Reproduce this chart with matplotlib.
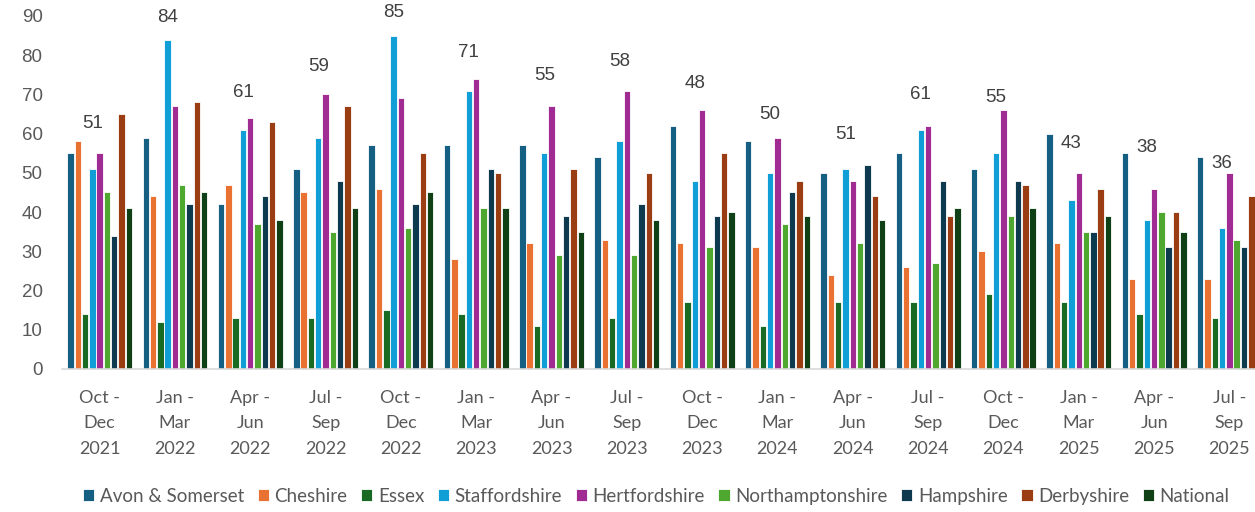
import numpy as np
import matplotlib
matplotlib.use("Agg")
import matplotlib.pyplot as plt

quarters = ["Oct -\nDec\n2021", "Jan -\nMar\n2022", "Apr -\nJun\n2022", "Jul -\nSep\n2022",
            "Oct -\nDec\n2022", "Jan -\nMar\n2023", "Apr -\nJun\n2023", "Jul -\nSep\n2023",
            "Oct -\nDec\n2023", "Jan -\nMar\n2024", "Apr -\nJun\n2024", "Jul -\nSep\n2024",
            "Oct -\nDec\n2024", "Jan -\nMar\n2025", "Apr -\nJun\n2025", "Jul -\nSep\n2025"]

avon_somerset    = [55, 59, 42, 51, 57, 57, 57, 54, 62, 58, 50, 55, 51, 60, 55, 54]
cheshire         = [58, 44, 47, 45, 46, 28, 32, 33, 32, 31, 24, 26, 30, 32, 23, 23]
essex            = [14, 12, 13, 13, 15, 14, 11, 13, 17, 11, 17, 17, 19, 17, 14, 13]
staffordshire    = [51, 84, 61, 59, 85, 71, 55, 58, 48, 50, 51, 61, 55, 43, 38, 36]
hertfordshire    = [55, 67, 64, 70, 69, 74, 67, 71, 66, 59, 48, 62, 66, 50, 46, 50]
northamptonshire = [45, 47, 37, 35, 36, 41, 29, 29, 31, 37, 32, 27, 39, 35, 40, 33]
hampshire        = [34, 42, 44, 48, 42, 51, 39, 42, 39, 45, 52, 48, 48, 35, 31, 31]
derbyshire       = [65, 68, 63, 67, 55, 50, 51, 50, 55, 48, 44, 39, 47, 46, 40, 44]
national         = [41, 45, 38, 41, 45, 41, 35, 38, 40, 39, 38, 41, 41, 39, 35, np.nan]

series_names = ["Avon & Somerset", "Cheshire", "Essex", "Staffordshire", "Hertfordshire",
                "Northamptonshire", "Hampshire", "Derbyshire", "National"]
series_values = [avon_somerset, cheshire, essex, staffordshire, hertfordshire,
                 northamptonshire, hampshire, derbyshire, national]
colors = ["#156082", "#E97132", "#196B24", "#0F9ED5", "#A02B93",
          "#4EA72E", "#0E3A4F", "#9A3D12", "#0F4016"]

# heights at which the Staffordshire value labels sit
label_heights = [62.5, 89.5, 70.6, 77.2, 90.8, 80.8, 74.7, 78.4,
                 72.9, 65.0, 59.7, 69.9, 69.3, 57.4, 56.4, 52.3]

fig = plt.figure(figsize=(12.55, 5.12), dpi=100)
ax = fig.add_axes([0.0494, 0.2793, 0.9506, 0.6895])

x = np.arange(len(quarters))
pitch = 0.097
width = 0.085
n = len(series_names)
for i, (name, vals, col) in enumerate(zip(series_names, series_values, colors)):
    offs = (i - (n - 1) / 2) * pitch
    ax.bar(x + offs, vals, width=width, color=col, edgecolor="white",
           linewidth=0.6, label=name, zorder=2)

staff_idx = series_names.index("Staffordshire")
staff_off = (staff_idx - (n - 1) / 2) * pitch
for xi, v, h in zip(x, staffordshire, label_heights):
    ax.text(xi + staff_off, h, f"{v}", ha="center", va="center", fontsize=13.5,
            color="#404040", family="Liberation Sans")

ax.set_xlim(-0.5, 15.34)
ax.set_ylim(0, 90)
ax.set_yticks(range(0, 91, 10))
ax.set_xticks(x)
ax.set_xticklabels(quarters, fontsize=13, color="#595959", family="Lato",
                   linespacing=1.72)
for lab in ax.get_yticklabels():
    lab.set_family("Liberation Sans")
    lab.set_fontsize(13.5)
    lab.set_color("#595959")
ax.tick_params(axis="both", length=0)
ax.tick_params(axis="x", pad=15)
ax.tick_params(axis="y", pad=14)
for s in ["left", "right", "top"]:
    ax.spines[s].set_visible(False)
ax.spines["bottom"].set_color("#D9D9D9")
ax.spines["bottom"].set_linewidth(1.2)

fig.legend(loc="center", bbox_to_anchor=(0.523, 0.031), ncol=9, frameon=False,
           handlelength=0.6, handleheight=0.6, handletextpad=0.3,
           columnspacing=0.72, prop={"family": "Lato", "size": 13.5},
           labelcolor="#595959")

fig.savefig("out.png", dpi=100)
